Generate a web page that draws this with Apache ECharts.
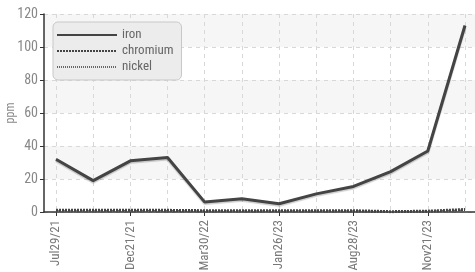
<!DOCTYPE html>
<html>
<head>
<meta charset="utf-8">
<script src="https://cdn.jsdelivr.net/npm/echarts@6/dist/echarts.min.js"></script>
<style>
  html, body { margin: 0; padding: 0; background: #fff; }
  #chart { width: 475px; height: 272px; }
</style>
</head>
<body>
<div id="chart"></div>
<script type="text/javascript">
  // sample dates (only every other one is labelled on the chart)
  var dates = ['Jul29/21', 'Oct12/21', 'Dec21/21', 'Feb15/22', 'Mar30/22', 'Aug10/22',
               'Jan26/23', 'May09/23', 'Aug28/23', 'Oct05/23', 'Nov21/23', 'Jan18/24'];
  var iron     = [32, 19, 31, 33, 6, 8, 5, 11, 15.5, 24.5, 37, 113];
  var chromium = [1, 1, 1, 1, 0.8, 0.8, 0.8, 0.8, 0.8, 0.2, 0.5, 1.5];
  var nickel   = [0.5, 0.5, 0.6, 0.6, 0.4, 0.4, 0.4, 0.4, 0.5, 0, 0.3, 1];
  var yTicks = [0, 120, 20]; // min, max, step

  var font = "'Liberation Sans Narrow', 'Roboto Condensed', 'Roboto', sans-serif";
  var chart = echarts.init(document.getElementById('chart'));

  var option = {
    animation: false,
    textStyle: { fontFamily: font },
    grid: [
      // frame grid: y axis, bands, base line
      { left: 44, right: 0, top: 14, bottom: 60, outerBoundsMode: 'none' },
      // data grid: categories are inset from the frame
      { left: 56, right: 10, top: 14, bottom: 60, outerBoundsMode: 'none' }
    ],
    legend: {
      left: 53,
      top: 22,
      orient: 'vertical',
      backgroundColor: '#ececec',
      borderColor: '#c8c8c8',
      borderWidth: 1,
      borderRadius: 5,
      padding: [6, 8, 6, 3],
      itemWidth: 60,
      itemHeight: 10,
      itemGap: 2,
      itemStyle: { opacity: 0 },
      textStyle: { fontFamily: font, fontSize: 13, lineHeight: 14, color: '#666' },
      data: ['iron', 'chromium', 'nickel']
    },
    xAxis: [
      {
        gridIndex: 0, type: 'value', min: 0, max: 1,
        axisLine: { show: true, onZero: false, lineStyle: { color: '#333', width: 1.5 } },
        axisTick: { show: false }, axisLabel: { show: false }, splitLine: { show: false }
      },
      {
        gridIndex: 1, type: 'category', boundaryGap: false, data: dates,
        axisLine: { show: false },
        axisTick: { show: true, interval: 1, length: 4, lineStyle: { color: '#333' } },
        axisLabel: { interval: 1, rotate: 90, margin: 8, color: '#777', fontSize: 13, fontFamily: font },
        splitLine: { show: true, interval: 0, lineStyle: { color: '#d8d8d8', type: [4, 4] } }
      }
    ],
    yAxis: [
      {
        gridIndex: 0, type: 'value', min: yTicks[0], max: yTicks[1], interval: yTicks[2],
        name: 'ppm', nameLocation: 'middle', nameGap: 27, nameMoveOverlap: false,
        nameTextStyle: { color: '#888', fontSize: 12, fontFamily: font },
        axisLine: { show: true, lineStyle: { color: '#333', width: 1.5 } },
        axisTick: { show: true, length: 4, lineStyle: { color: '#333' } },
        axisLabel: { color: '#888', fontSize: 14, margin: 6, fontFamily: font },
        splitLine: { show: true, lineStyle: { color: '#d8d8d8', type: [4, 4] } },
        splitArea: { show: true, areaStyle: { color: ['rgba(255,255,255,0)', '#f6f6f6'] } }
      },
      {
        gridIndex: 1, type: 'value', min: yTicks[0], max: yTicks[1], interval: yTicks[2],
        show: false
      }
    ],
    series: [
      {
        name: 'iron', type: 'line', xAxisIndex: 1, yAxisIndex: 1, data: iron,
        symbol: 'none', z: 5,
        lineStyle: { color: '#444', width: 3, shadowColor: 'rgba(0,0,0,0.2)', shadowOffsetY: 1.5, shadowBlur: 1 },
        itemStyle: { color: '#444' }
      },
      {
        name: 'chromium', type: 'line', xAxisIndex: 1, yAxisIndex: 1, data: chromium,
        symbol: 'none', z: 4,
        lineStyle: { color: '#444', width: 3, type: [2, 1] },
        itemStyle: { color: '#444' }
      },
      {
        name: 'nickel', type: 'line', xAxisIndex: 1, yAxisIndex: 1, data: nickel,
        symbol: 'none', z: 3,
        lineStyle: { color: '#666', width: 2, type: [1, 1] },
        itemStyle: { color: '#666' }
      }
    ]
  };

  chart.setOption(option);
  window.addEventListener('resize', chart.resize);
</script>
</body>
</html>
